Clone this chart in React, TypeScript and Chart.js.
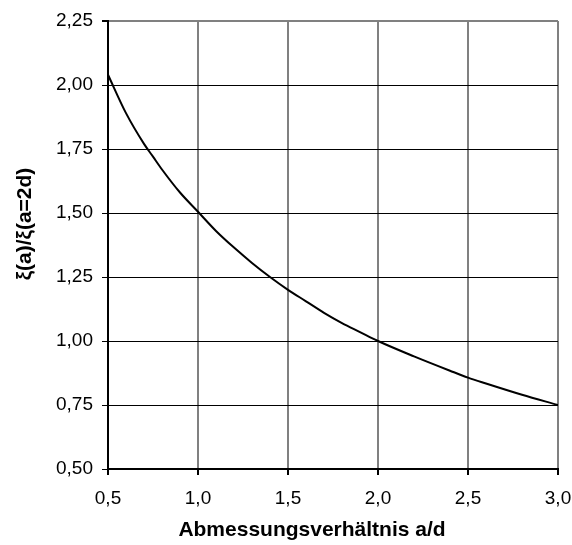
import React, { useEffect, useRef } from "react";
import { Chart, registerables } from "chart.js";

Chart.register(...registerables);

const ratioAD = [0.5, 0.6, 0.7, 0.75, 0.8, 0.9, 1.0, 1.1, 1.2, 1.3, 1.4, 1.5, 1.6, 1.7, 1.8, 1.9, 2.0, 2.2, 2.4, 2.5, 2.6, 2.8, 3.0];
const xiRatio = [2.04, 1.89, 1.77, 1.72, 1.67, 1.58, 1.505, 1.43, 1.365, 1.305, 1.25, 1.2, 1.155, 1.11, 1.07, 1.035, 1.0, 0.94, 0.884, 0.857, 0.834, 0.79, 0.75];

const xTitle = "Abmessungsverhältnis a/d";
const yTitle = "ξ(a)/ξ(a=2d)";

const FONT = "'Liberation Sans', Arial, sans-serif";

const axisTitles = {
  id: "axisTitles",
  afterDraw(chart: any) {
    const { ctx, chartArea } = chart;
    ctx.save();
    ctx.fillStyle = "#000";
    ctx.font = `bold 21px ${FONT}`;
    ctx.textAlign = "center";
    ctx.textBaseline = "middle";
    const cx = (chartArea.left + chartArea.right) / 2 - 21;
    ctx.fillText(xTitle, cx, 530);
    const cy = (chartArea.top + chartArea.bottom) / 2 - 21;
    ctx.translate(25.5, cy);
    ctx.rotate(-Math.PI / 2);
    ctx.fillText(yTitle, 0, 0);
    ctx.restore();
  },
};

export default function App() {
  const ref = useRef<HTMLCanvasElement | null>(null);
  useEffect(() => {
    if (!ref.current) return;
    const chart = new Chart(ref.current, {
      type: "line",
      data: {
        datasets: [
          {
            data: ratioAD.map((x, i) => ({ x, y: xiRatio[i] })),
            borderColor: "#000",
            borderWidth: 2,
            pointRadius: 0,
            cubicInterpolationMode: "monotone",
            fill: false,
          },
        ],
      },
      plugins: [axisTitles],
      options: {
        animation: false,
        responsive: false,
        layout: { padding: { top: 21, right: 14, left: 0, bottom: 0 } },
        plugins: { legend: { display: false }, tooltip: { enabled: false } },
        scales: {
          x: {
            type: "linear",
            min: 0.5,
            max: 3.0,
            afterFit: (s: any) => {
              s.height = 76;
              s.paddingRight = 0;
              s.paddingLeft = 0;
            },
            ticks: {
              stepSize: 0.5,
              color: "#000",
              padding: 12,
              font: { family: FONT, size: 19 },
              callback: (v: any) => Number(v).toFixed(1).replace(".", ","),
            },
            grid: {
              color: "#808080",
              lineWidth: 2,
              tickColor: "#000",
              tickLength: 6,
            },
            border: { color: "#000", width: 2 },
          },
          y: {
            type: "linear",
            min: 0.5,
            max: 2.25,
            afterFit: (s: any) => {
              s.width = 108;
              s.paddingTop = 0;
              s.paddingBottom = 0;
            },
            ticks: {
              stepSize: 0.25,
              color: "#000",
              padding: 9,
              font: { family: FONT, size: 19 },
              callback: (v: any) => Number(v).toFixed(2).replace(".", ","),
            },
            grid: {
              color: (c: any) => (c.tick && Math.abs(c.tick.value - 2.25) < 1e-6 ? "#808080" : "#000"),
              lineWidth: (c: any) => (c.tick && Math.abs(c.tick.value - 2.25) < 1e-6 ? 2 : 1),
              tickColor: "#000",
              tickLength: 6,
            },
            border: { color: "#000", width: 2 },
          },
        },
      },
    });
    return () => chart.destroy();
  }, []);
  return (
    <div style={{ position: "absolute", left: 0, top: 0, width: 572, height: 545, background: "#fff" }}>
      <canvas ref={ref} width={572} height={545} />
    </div>
  );
}
